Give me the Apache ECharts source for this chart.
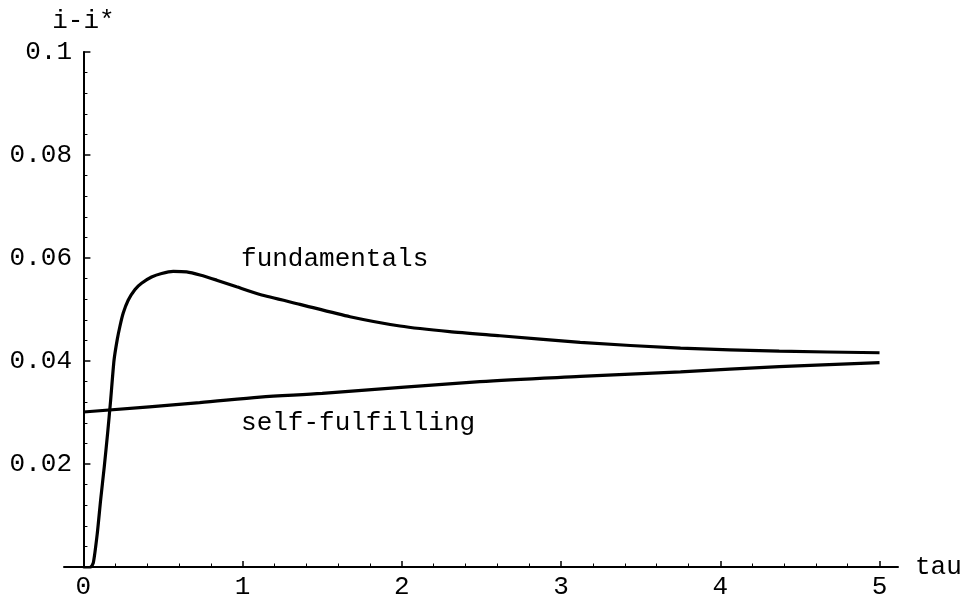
<!DOCTYPE html>
<html>
<head>
<meta charset="utf-8">
<script src="https://cdn.jsdelivr.net/npm/echarts@6/dist/echarts.min.js"></script>
<style>html,body{margin:0;padding:0;background:#fff}#c{width:970px;height:600px}</style>
</head>
<body>
<div id="c"></div>
<script>
// Data
const fundT = [0, 0.02, 0.04, 0.062, 0.087, 0.108, 0.131, 0.152, 0.171, 0.192, 0.212, 0.229, 0.25, 0.281, 0.324, 0.365, 0.428, 0.491, 0.564, 0.648, 0.732, 0.837, 0.962, 1.109, 1.36, 1.674, 1.988, 2.3, 2.616, 3.12, 3.75, 4.37, 5];
const fundV = [0, -0.0003, -0.0002, 0.0008, 0.0065, 0.0130, 0.0195, 0.0260, 0.0324, 0.0401, 0.0441, 0.0467, 0.0493, 0.0518, 0.0539, 0.0551, 0.0563, 0.0570, 0.0574, 0.0573, 0.0567, 0.0557, 0.0544, 0.0529, 0.0510, 0.0486, 0.0468, 0.0457, 0.0449, 0.0436, 0.0425, 0.0419, 0.0416];
const selfT = [0, 0.73, 1.109, 1.5, 2.49, 3.12, 3.75, 4.37, 5];
const selfV = [0.0301, 0.0319, 0.0330, 0.0337, 0.0360, 0.0370, 0.0379, 0.0389, 0.0397];
const xMajorTicks = [0, 1, 2, 3, 4, 5];
const xMinorTicks = [0.2,0.4,0.6,0.8,1.2,1.4,1.6,1.8,2.2,2.4,2.6,2.8,3.2,3.4,3.6,3.8,4.2,4.4,4.6,4.8];
const labelTexts = ['fundamentals', 'self-fulfilling'];
const labelAnchors = [[0.99, 0.0598], [0.99, 0.0280]];

const FONT = '"Courier New", "Liberation Mono", monospace';
const FS = 26;
const zip = (a, b) => a.map((x, i) => [x, b[i]]);

const chart = echarts.init(document.getElementById('c'));
const xCommon = { type: 'value', min: -0.122, max: 5.116, splitLine: { show: false } };
chart.setOption({
  animation: false,
  backgroundColor: '#fff',
  grid: { left: 64, right: 72, top: 52, bottom: 33, containLabel: false, outerBoundsMode: 'none' },
  xAxis: [
    Object.assign({}, xCommon, {
      position: 'bottom',
      name: 'tau', nameLocation: 'end', nameGap: 17,
      nameTextStyle: { fontFamily: FONT, fontSize: FS, color: '#000', verticalAlign: 'middle' },
      axisLine: { show: true, onZero: false, lineStyle: { color: '#000', width: 2 } },
      axisTick: { show: true, inside: true, length: 6, customValues: xMajorTicks, lineStyle: { color: '#000', width: 1.5 } },
      axisLabel: { show: true, customValues: xMajorTicks, margin: 7, fontFamily: FONT, fontSize: FS, color: '#000', formatter: v => String(Math.round(v)) }
    }),
    Object.assign({}, xCommon, {
      position: 'bottom',
      axisLine: { show: false, onZero: false },
      axisTick: { show: true, inside: true, length: 3.5, customValues: xMinorTicks, lineStyle: { color: '#000', width: 1 } },
      axisLabel: { show: false }
    })
  ],
  yAxis: {
    type: 'value', min: 0, max: 0.1, interval: 0.02,
    name: 'i-i*', nameLocation: 'end', nameGap: 18,
    nameTextStyle: { fontFamily: FONT, fontSize: FS, color: '#000', align: 'center' },
    splitLine: { show: false },
    axisLine: { show: true, onZero: true, onZeroAxisIndex: 0, lineStyle: { color: '#000', width: 2 } },
    axisTick: { show: true, inside: true, length: 7, lineStyle: { color: '#000', width: 1.5 } },
    minorTick: { show: true, splitNumber: 5, length: 4, lineStyle: { color: '#000', width: 1 } },
    axisLabel: {
      margin: -8, fontFamily: FONT, fontSize: FS, color: '#000', align: 'right',
      formatter: v => (v < 1e-9 ? '' : (Math.abs(v - 0.1) < 1e-9 ? '0.1' : v.toFixed(2)))
    }
  },
  series: [
    {
      type: 'line', name: 'fundamentals', xAxisIndex: 0, data: zip(fundT, fundV),
      smooth: 0.2, showSymbol: false, symbol: 'none',
      lineStyle: { color: '#000', width: 3.2 },
      markPoint: {
        symbol: 'circle', symbolSize: 0,
        data: [{ coord: labelAnchors[0], label: { show: true, position: 'right', distance: 0, formatter: labelTexts[0], fontFamily: FONT, fontSize: FS, color: '#000' } }]
      }
    },
    {
      type: 'line', name: 'self-fulfilling', xAxisIndex: 0, data: zip(selfT, selfV),
      smooth: 0.3, showSymbol: false, symbol: 'none',
      lineStyle: { color: '#000', width: 3.2 },
      markPoint: {
        symbol: 'circle', symbolSize: 0,
        data: [{ coord: labelAnchors[1], label: { show: true, position: 'right', distance: 0, formatter: labelTexts[1], fontFamily: FONT, fontSize: FS, color: '#000' } }]
      }
    }
  ]
});
</script>
</body>
</html>
